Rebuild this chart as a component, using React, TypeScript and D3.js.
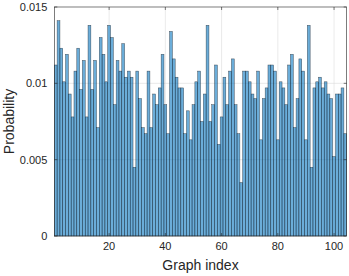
import React from "react";
import * as d3 from "d3";

// probability per graph index
const probs = [
  0.0112, 0.0141, 0.0123, 0.0101, 0.0119, 0.0093, 0.0078, 0.0108, 0.0123, 0.0096,
  0.0115, 0.0078, 0.0138, 0.0096, 0.0115, 0.0071, 0.013, 0.0119, 0.0101, 0.0138,
  0.013, 0.0086, 0.0115, 0.0108, 0.0126, 0.0104, 0.0108, 0.0104, 0.0045, 0.0108,
  0.009, 0.0071, 0.0067, 0.0108, 0.0071, 0.0093, 0.0086, 0.0097, 0.0119, 0.0086,
  0.0067, 0.0134, 0.0116, 0.0104, 0.0097, 0.0097, 0.0067, 0.0082, 0.0063, 0.0086,
  0.0101, 0.0108, 0.0075, 0.0093, 0.0138, 0.0075, 0.0086, 0.0112, 0.006, 0.0078,
  0.0104, 0.0086, 0.0108, 0.0116, 0.0086, 0.0067, 0.0035, 0.0108, 0.0108, 0.0101,
  0.0093, 0.009, 0.0108, 0.0063, 0.009, 0.0097, 0.0112, 0.0112, 0.0108, 0.0063,
  0.0101, 0.0097, 0.0086, 0.0112, 0.0119, 0.0071, 0.009, 0.0116, 0.0108, 0.0063,
  0.0138, 0.0045, 0.0097, 0.0101, 0.0104, 0.0097, 0.0101, 0.0093, 0.009, 0.0052,
  0.0093, 0.0093, 0.0097, 0.0067,
];
const xTicks = [20, 40, 60, 80, 100];
const yTicks = [0, 0.005, 0.01, 0.015];
const yTickLabels = ["0", "0.005", "0.01", "0.015"];

export default function App() {
  const W = 349, H = 276;
  const left = 54.3, right = 346.7, top = 7, bottom = 236;

  const x = d3.scaleLinear().domain([0.5, probs.length + 0.5]).range([left, right]);
  const y = d3.scaleLinear().domain([0, 0.015]).range([bottom, top]);
  const bw = x(1) - x(0);
  const axisColor = "#262626";
  const font = "'Liberation Sans', Arial, sans-serif";

  return (
    <svg width={W} height={H} style={{ position: "absolute", left: 0, top: 0 }} fontFamily={font}>
      <rect x={0} y={0} width={W} height={H} fill="#fff" />
      {/* grid */}
      <g stroke="#dcdcdc" strokeWidth={0.6}>
        {xTicks.map(t => <line key={"gx" + t} x1={x(t)} x2={x(t)} y1={top} y2={bottom} />)}
        {yTicks.slice(1, 3).map(t => <line key={"gy" + t} x1={left} x2={right} y1={y(t)} y2={y(t)} />)}
      </g>
      {/* bars */}
      <g>
        {probs.map((p, i) => (
          <rect
            key={i}
            x={x(i + 1) - bw / 2}
            y={y(p)}
            width={bw}
            height={y(0) - y(p)}
            fill="rgb(0,114,189)"
            fillOpacity={0.58}
            stroke="#14202c"
            strokeOpacity={0.75}
            strokeWidth={0.5}
          />
        ))}
      </g>
      {/* box */}
      <rect x={left} y={top} width={right - left} height={bottom - top} fill="none" stroke={axisColor} strokeWidth={0.6} />
      {/* ticks */}
      <g stroke={axisColor} strokeWidth={0.6}>
        {xTicks.map(t => (
          <g key={"tx" + t}>
            <line x1={x(t)} x2={x(t)} y1={bottom} y2={bottom - 3} />
            <line x1={x(t)} x2={x(t)} y1={top} y2={top + 3} />
          </g>
        ))}
        {yTicks.map(t => (
          <g key={"ty" + t}>
            <line x1={left} x2={left + 3} y1={y(t)} y2={y(t)} />
            <line x1={right} x2={right - 3} y1={y(t)} y2={y(t)} />
          </g>
        ))}
      </g>
      <g fill={axisColor} fontSize={11}>
        {xTicks.map(t => (
          <text key={"lx" + t} x={x(t)} y={bottom + 14} textAnchor="middle">{t}</text>
        ))}
        {yTicks.map((t, i) => (
          <text key={"ly" + t} x={left - 7} y={y(t) + 4} textAnchor="end">{yTickLabels[i]}</text>
        ))}
      </g>
      <text x={(left + right) / 2} y={270} textAnchor="middle" fontSize={14} fill={axisColor}>Graph index</text>
      <text transform={`translate(14, ${(top + bottom) / 2}) rotate(-90)`} textAnchor="middle" fontSize={14} fill={axisColor}>Probability</text>
    </svg>
  );
}
